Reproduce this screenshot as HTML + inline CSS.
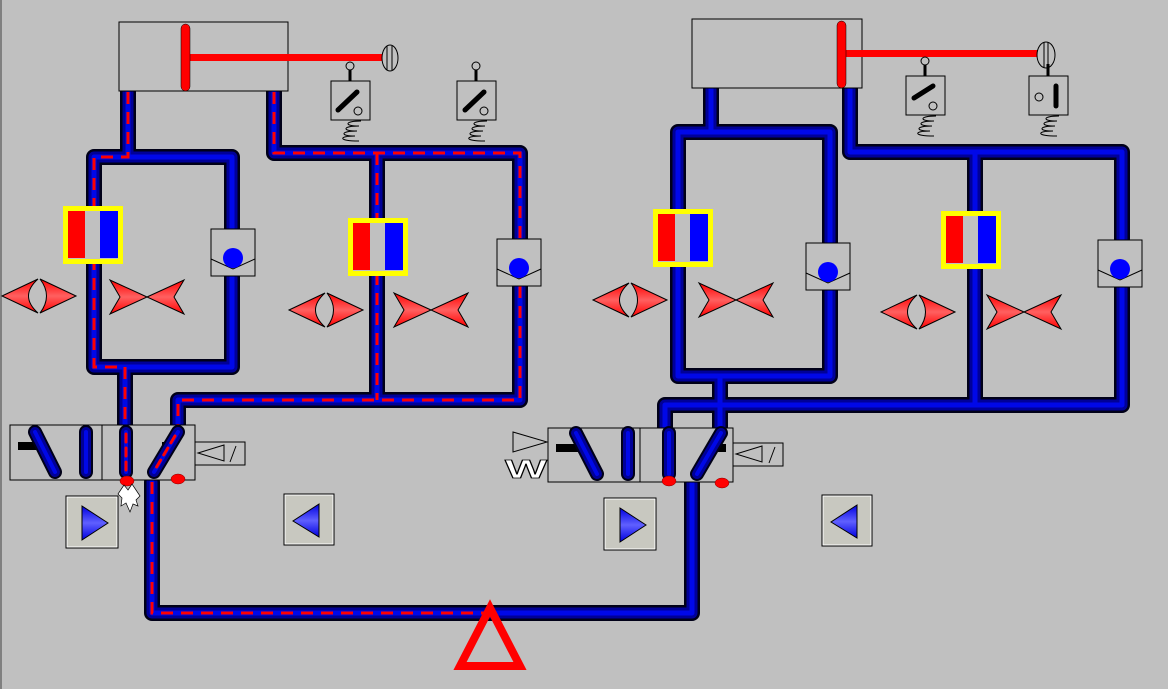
<!DOCTYPE html>
<html><head><meta charset="utf-8"><style>
html,body{margin:0;padding:0;background:#c0c0c0;width:1168px;height:689px;overflow:hidden}
svg{display:block}
</style></head><body>
<svg width="1168" height="689" viewBox="0 0 1168 689" xmlns="http://www.w3.org/2000/svg">
<defs>
<linearGradient id="rg" x1="0" y1="0" x2="0" y2="1"><stop offset="0" stop-color="#ff0000"/><stop offset="0.5" stop-color="#ff6060"/><stop offset="1" stop-color="#ff0000"/></linearGradient>
<linearGradient id="bg" x1="0" y1="0" x2="0" y2="1"><stop offset="0" stop-color="#0000e0"/><stop offset="0.5" stop-color="#6060ff"/><stop offset="1" stop-color="#0000e0"/></linearGradient>
<g id="diam">
<path d="M-37,0 L-1,-17 Q-20,0 -1,17 Z" fill="url(#rg)" stroke="#000" stroke-width="1"/>
<path d="M37,0 L1,-17 Q14,0 1,17 Z" fill="url(#rg)" stroke="#000" stroke-width="1"/>
</g>
<g id="bow">
<path d="M0,0 L-37,-17 L-27,0 L-37,17 Z" fill="url(#rg)" stroke="#000" stroke-width="1"/>
<path d="M0,0 L37,-17 L27,0 L37,17 Z" fill="url(#rg)" stroke="#000" stroke-width="1"/>
</g>
<g id="ybox">
<rect x="0" y="0" width="60" height="58" fill="#ffff00"/>
<rect x="5" y="5" width="50" height="48" fill="#c0c0c0"/>
<rect x="5" y="5" width="17" height="47" fill="#ff0000"/>
<rect x="37" y="5" width="18" height="47" fill="#0000ff"/>
</g>
<g id="chk">
<rect x="0" y="0" width="44" height="47" fill="#c0c0c0" stroke="#000" stroke-width="1"/>
<path d="M0,30 L22,40 L44,30" fill="none" stroke="#000" stroke-width="1"/>
<circle cx="22" cy="29" r="10" fill="#0000ff"/>
</g>
<g id="spr">
<path d="M30,40 c-16,0 -18,5 -2,5 c-16,0 -18,5 -2,5 c-16,0 -18,5 -2,5 c-16,0 -18,5 4,5" fill="none" stroke="#000" stroke-width="1"/>
</g>
<g id="sens">
<rect x="0" y="0" width="39" height="39" fill="#c0c0c0" stroke="#000" stroke-width="1"/>
<line x1="19" y1="-12" x2="19" y2="0" stroke="#000" stroke-width="3"/>
<circle cx="19" cy="-15" r="4" fill="#c0c0c0" stroke="#000"/>
<use href="#spr"/>
<circle cx="27" cy="30" r="4" fill="none" stroke="#000"/>
</g>
<g id="btnR">
<rect x="0" y="0" width="52" height="52" fill="#c8c8c0" stroke="#000" stroke-width="1"/>
<rect x="1" y="1" width="50" height="50" fill="none" stroke="#fff" stroke-width="1"/>
<path d="M16,10 L42,27 L16,44 Z" fill="url(#bg)" stroke="#000" stroke-width="1"/>
</g>
<g id="btnL">
<rect x="0" y="0" width="50" height="51" fill="#c8c8c0" stroke="#000" stroke-width="1"/>
<rect x="1" y="1" width="48" height="49" fill="none" stroke="#fff" stroke-width="1"/>
<path d="M35,10 L9,27 L35,43 Z" fill="url(#bg)" stroke="#000" stroke-width="1"/>
</g>
</defs>
<line x1="1" y1="0" x2="1" y2="689" stroke="#808080" stroke-width="2"/>

<g fill="none" stroke-linejoin="round" stroke-linecap="round">
<g id="pipes" >
<path id="p1" d="M128,92 V157 H94 V367 H232 V157 H128"/>
<path id="p2" d="M125,367 V432"/>
<path id="p3" d="M274,92 V153 H520 V400 H178 V432"/>
<path id="p4" d="M377,153 V400"/>
<path id="p5" d="M152,482 V613 H692 V482"/>
<path id="q1" d="M711,89 V132 H678 V376 H830 V132 H711"/>
<path id="q2" d="M720,376 V432"/>
<path id="q3" d="M850,89 V152 H1122 V405 H665 V432"/>
<path id="q4" d="M975,152 V405"/>
</g>
</g>
<g fill="none" stroke-linejoin="round" stroke-linecap="round" stroke="#000018" stroke-width="16">
<use href="#p1"/><use href="#p2"/><use href="#p3"/><use href="#p4"/><use href="#p5"/><use href="#q1"/><use href="#q2"/><use href="#q3"/><use href="#q4"/>
</g>
<g fill="none" stroke-linejoin="round" stroke-linecap="round" stroke="#000098" stroke-width="11">
<use href="#p1"/><use href="#p2"/><use href="#p3"/><use href="#p4"/><use href="#p5"/><use href="#q1"/><use href="#q2"/><use href="#q3"/><use href="#q4"/>
</g>
<g fill="none" stroke-linejoin="round" stroke-linecap="round" stroke="#0008e8" stroke-width="5">
<use href="#p1"/><use href="#p2"/><use href="#p3"/><use href="#p4"/><use href="#p5"/><use href="#q1"/><use href="#q2"/><use href="#q3"/><use href="#q4"/>
</g>
<g fill="none" stroke="#ff0000" stroke-width="3" stroke-dasharray="12 8">
<path d="M128,92 V157 H94 V367 H125 V432"/>
<path d="M274,92 V153 H520 V400 H178 V432"/>
<path d="M377,153 V400"/>
<path d="M152,482 V613 H490"/>
</g>

<rect x="119" y="22" width="169" height="69" fill="#c0c0c0" stroke="#000" stroke-width="1"/>
<rect x="190" y="54" width="193" height="7" fill="#ff0000"/>
<rect x="181" y="24" width="9" height="67" rx="4.5" fill="#ff0000" stroke="#000" stroke-width="0.5"/>
<ellipse cx="390" cy="58" rx="8" ry="13" fill="#c0c0c0" stroke="#000"/>
<line x1="387" y1="46" x2="387" y2="70" stroke="#000"/><line x1="392" y1="46" x2="392" y2="70" stroke="#000"/>

<rect x="692" y="19" width="170" height="69" fill="#c0c0c0" stroke="#000" stroke-width="1"/>
<rect x="846" y="50" width="192" height="7" fill="#ff0000"/>
<rect x="837" y="21" width="9" height="67" rx="4.5" fill="#ff0000" stroke="#000" stroke-width="0.5"/>
<ellipse cx="1046" cy="55" rx="9" ry="13" fill="#c0c0c0" stroke="#000"/>
<line x1="1044" y1="42" x2="1044" y2="68" stroke="#000"/><line x1="1048" y1="42" x2="1048" y2="68" stroke="#000"/>

<use href="#sens" x="331" y="81"/>
<line x1="338" y1="110" x2="357" y2="92" stroke="#000" stroke-width="5" stroke-linecap="round"/>
<use href="#sens" x="457" y="81"/>
<line x1="465" y1="110" x2="484" y2="92" stroke="#000" stroke-width="5" stroke-linecap="round"/>
<use href="#sens" x="906" y="76"/>
<line x1="914" y1="98" x2="933" y2="86" stroke="#000" stroke-width="5" stroke-linecap="round"/>
<g transform="translate(1029,76)">
<rect x="0" y="0" width="39" height="39" fill="#c0c0c0" stroke="#000"/>
<line x1="19" y1="-12" x2="19" y2="0" stroke="#000" stroke-width="3"/>
<use href="#spr"/>
<circle cx="10" cy="21" r="4" fill="none" stroke="#000"/>
<line x1="27" y1="10" x2="27" y2="30" stroke="#000" stroke-width="5" stroke-linecap="round"/>
</g>

<use href="#ybox" x="63" y="206"/>
<use href="#ybox" x="348" y="218"/>
<use href="#ybox" x="653" y="209"/>
<use href="#ybox" x="941" y="211"/>
<use href="#chk" x="211" y="229"/>
<use href="#chk" x="497" y="239"/>
<use href="#chk" x="806" y="243"/>
<use href="#chk" x="1098" y="240"/>
<use href="#diam" x="39" y="296"/>
<use href="#bow" x="147" y="297"/>
<use href="#diam" x="326" y="310"/>
<use href="#bow" x="431" y="310"/>
<use href="#diam" x="630" y="300"/>
<use href="#bow" x="736" y="300"/>
<use href="#diam" x="918" y="312"/>
<use href="#bow" x="1024" y="312"/>

<rect x="10" y="425" width="185" height="55" fill="#c0c0c0" stroke="#000"/>
<line x1="102" y1="425" x2="102" y2="480" stroke="#000"/>
<rect x="18" y="442" width="26" height="8" fill="#000"/>
<rect x="162" y="442" width="13" height="8" fill="#000"/>
<g stroke-linecap="round" fill="none">
<g stroke="#000018" stroke-width="14"><path d="M35,432 L55,472"/><path d="M86,432 V472"/><path d="M126,432 V472"/><path d="M178,432 L154,472"/></g>
<g stroke="#000098" stroke-width="10"><path d="M35,432 L55,472"/><path d="M86,432 V472"/><path d="M126,432 V472"/><path d="M178,432 L154,472"/></g>
<g stroke="#0008e8" stroke-width="4"><path d="M35,432 L55,472"/><path d="M86,432 V472"/><path d="M126,432 V472"/><path d="M178,432 L154,472"/></g>
<g stroke="#ff0000" stroke-width="3" stroke-dasharray="8 6"><path d="M126,434 V472"/><path d="M175,436 L156,468"/></g>
</g>
<rect x="195" y="442" width="50" height="23" fill="#c0c0c0" stroke="#000"/>
<path d="M224,445 L198,453 L224,461 Z" fill="none" stroke="#000"/>
<line x1="230" y1="462" x2="236" y2="446" stroke="#000"/>
<ellipse cx="127" cy="481" rx="7" ry="5" fill="#ff0000" stroke="#800000" stroke-width="0.5"/>
<ellipse cx="178" cy="479" rx="7" ry="5" fill="#ff0000" stroke="#800000" stroke-width="0.5"/>
<path d="M118,494 L124,485 L128,490 L132,484 L136,490 L140,496 L136,500 L138,506 L133,504 L130,512 L126,503 L121,506 L122,498 Z" fill="#fff" stroke="#000" stroke-width="0.7"/>

<rect x="548" y="428" width="185" height="54" fill="#c0c0c0" stroke="#000"/>
<line x1="640" y1="428" x2="640" y2="482" stroke="#000"/>
<rect x="556" y="444" width="26" height="8" fill="#000"/>
<rect x="718" y="444" width="8" height="8" fill="#000"/>
<g stroke-linecap="round" fill="none">
<g stroke="#000018" stroke-width="14"><path d="M576,433 L597,474"/><path d="M628,433 V474"/><path d="M669,433 V474"/><path d="M721,433 L697,474"/></g>
<g stroke="#000098" stroke-width="10"><path d="M576,433 L597,474"/><path d="M628,433 V474"/><path d="M669,433 V474"/><path d="M721,433 L697,474"/></g>
<g stroke="#0008e8" stroke-width="4"><path d="M576,433 L597,474"/><path d="M628,433 V474"/><path d="M669,433 V474"/><path d="M721,433 L697,474"/></g>
</g>
<rect x="733" y="443" width="50" height="23" fill="#c0c0c0" stroke="#000"/>
<path d="M762,446 L736,454 L762,462 Z" fill="none" stroke="#000"/>
<line x1="769" y1="463" x2="775" y2="447" stroke="#000"/>
<path d="M513,432 L547,442 L513,452 Z" fill="none" stroke="#000"/>
<text x="505" y="478" font-family="Liberation Sans, sans-serif" font-size="26" font-weight="bold" fill="#fff" stroke="#000" stroke-width="0.8" textLength="42" lengthAdjust="spacingAndGlyphs">W</text>
<ellipse cx="669" cy="481" rx="7" ry="5" fill="#ff0000" stroke="#800000" stroke-width="0.5"/>
<ellipse cx="722" cy="483" rx="7" ry="5" fill="#ff0000" stroke="#800000" stroke-width="0.5"/>

<use href="#btnR" x="66" y="496"/>
<use href="#btnL" x="284" y="494"/>
<use href="#btnR" x="604" y="498"/>
<use href="#btnL" x="822" y="495"/>

<path d="M490,608 L520,666 L460,666 Z" fill="none" stroke="#ff0000" stroke-width="8" stroke-linejoin="miter"/>
</svg>
</body></html>
